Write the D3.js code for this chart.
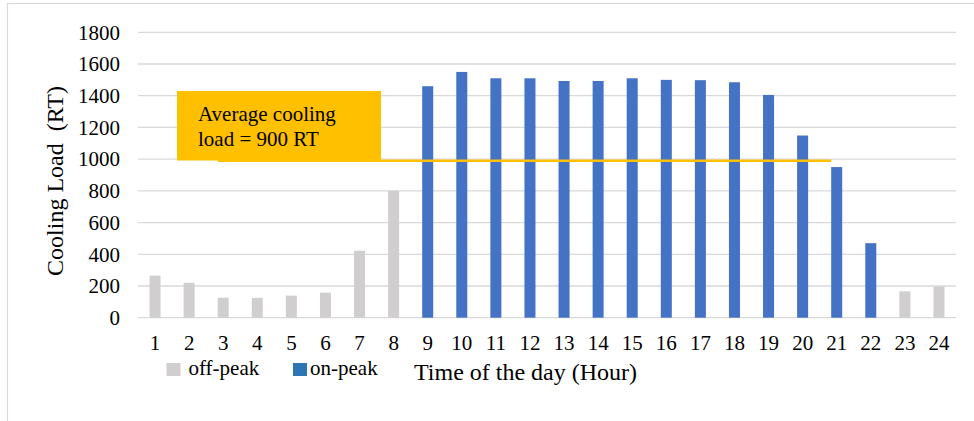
<!DOCTYPE html>
<html>
<head>
<meta charset="utf-8">
<script src="https://cdn.jsdelivr.net/npm/d3@7"></script>
<style>
  body { margin: 0; background: #fff; }
  text { font-family: "Liberation Serif", "Times New Roman", serif; fill: #000; }
</style>
</head>
<body>
<div id="chart"></div>
<script>
var width = 974;
var height = 421;

// data
var hours = ["1","2","3","4","5","6","7","8","9","10","11","12",
             "13","14","15","16","17","18","19","20","21","22","23","24"];
var loads = [265, 220, 126, 125, 139, 158, 422, 800, 1460, 1550, 1510, 1510,
             1493, 1493, 1510, 1500, 1498, 1485, 1405, 1149, 950, 470, 166, 197];
var periods = ["off","off","off","off","off","off","off","off",
               "on","on","on","on","on","on","on","on","on","on","on","on","on","on",
               "off","off"];
var yTicks = [0, 200, 400, 600, 800, 1000, 1200, 1400, 1600, 1800];
var avgLevel = 990;
var avgFrom = "3", avgTo = "21";
var noteLines = ["Average cooling", "load = 900 RT"];
var legendItems = [{key: "off", label: "off-peak"}, {key: "on", label: "on-peak"}];

var barColor = {off: "#D0CECE", on: "#4472C4"};
var legendColor = {off: "#D0CECE", on: "#2E75B6"};

var serif = "'Liberation Serif', 'Times New Roman', serif";
var plot = {left: 138, right: 956, top: 32.3, bottom: 317.7};

var svg = d3.select("#chart")
            .append("svg")
            .attr("width", width)
            .attr("height", height);

// outer chart frame (only left and top edges visible)
svg.append("rect")
   .attr("x", 7.5).attr("y", 3.5)
   .attr("width", 1000).attr("height", 500)
   .attr("fill", "none")
   .attr("stroke", "#D9D9D9")
   .attr("stroke-width", 1.2);

var xScale = d3.scaleBand()
               .domain(hours)
               .range([plot.left, plot.right])
               .paddingInner(0.677)
               .paddingOuter(0.3385);

var yScale = d3.scaleLinear()
               .domain([0, 1800])
               .range([plot.bottom, plot.top]);

// gridlines
svg.append("g")
   .selectAll("line")
   .data(yTicks)
   .join("line")
   .attr("x1", plot.left)
   .attr("x2", plot.right)
   .attr("y1", function(d){ return yScale(d); })
   .attr("y2", function(d){ return yScale(d); })
   .attr("stroke", "#D9D9D9")
   .attr("stroke-width", 1.3);

// y axis labels
var yAxis = d3.axisLeft(yScale)
              .tickValues(yTicks)
              .tickFormat(d3.format("d"))
              .tickSize(0)
              .tickPadding(0);
var gy = svg.append("g")
   .attr("transform", "translate(" + (plot.left - 18) + ",0)")
   .call(yAxis);
gy.attr("font-family", serif).attr("font-size", 21);
gy.select(".domain").remove();
gy.selectAll("text").attr("fill", "#000");

// x axis labels
var xAxis = d3.axisBottom(xScale).tickSize(0).tickPadding(0);
var gx = svg.append("g")
   .attr("transform", "translate(0," + plot.bottom + ")")
   .call(xAxis);
gx.attr("font-family", serif).attr("font-size", 21);
gx.select(".domain").remove();
gx.selectAll("text")
  .attr("dy", null)
  .attr("y", 32)
  .attr("fill", "#000");

// bars
svg.append("g")
   .selectAll("rect")
   .data(hours)
   .join("rect")
   .attr("x", function(d){ return xScale(d); })
   .attr("width", xScale.bandwidth())
   .attr("y", function(d, i){ return yScale(loads[i]); })
   .attr("height", function(d, i){ return yScale(0) - yScale(loads[i]); })
   .attr("fill", function(d, i){ return barColor[periods[i]]; });

// average line
svg.append("line")
   .attr("x1", xScale(avgFrom))
   .attr("x2", xScale(avgTo))
   .attr("y1", yScale(avgLevel))
   .attr("y2", yScale(avgLevel))
   .attr("stroke", "#FFC000")
   .attr("stroke-width", 2.4);

// annotation box
svg.append("rect")
   .attr("x", 177).attr("y", 91)
   .attr("width", 204).attr("height", 69.5)
   .attr("fill", "#FFC000");

svg.append("g")
   .selectAll("text")
   .data(noteLines)
   .join("text")
   .attr("x", 198)
   .attr("y", function(d, i){ return 121 + i * 25; })
   .style("font-size", "21px")
   .text(function(d){ return d; });

// legend
var legend = svg.append("g")
   .selectAll("g")
   .data(legendItems)
   .join("g")
   .attr("transform", function(d, i){ return "translate(" + (166.5 + i * 126.5) + ",363)"; });

legend.append("rect")
      .attr("width", 14).attr("height", 13)
      .attr("fill", function(d){ return legendColor[d.key]; });

legend.append("text")
      .attr("x", function(d, i){ return i === 0 ? 22 : 17; })
      .attr("y", 11.5)
      .style("font-size", "21px")
      .text(function(d){ return d.label; });

// axis titles
svg.append("text")
   .attr("x", 414)
   .attr("y", 380)
   .style("font-size", "24px")
   .text("Time of the day (Hour)");

svg.append("text")
   .attr("transform", "translate(63,181) rotate(-90)")
   .attr("text-anchor", "middle")
   .style("white-space", "pre")
   .style("font-size", "24px")
   .text("Cooling Load  (RT)");
</script>
</body>
</html>
